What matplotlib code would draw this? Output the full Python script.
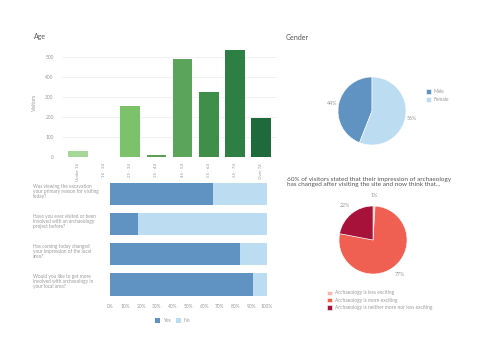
import matplotlib.pyplot as plt

plt.rcParams["font.family"] = ["Lato", "DejaVu Sans"]

W, H = 500, 354
GREY = "#9a9a9a"
DARK = "#555555"

# --- data -------------------------------------------------------------
age_groups = ["Under 16", "16 - 24", "25 - 34", "35 - 44", "45 - 54", "55 - 64", "65 - 74", "Over 74"]
age_visitors = [33, 2, 255, 12, 487, 326, 532, 197]
age_colors = ["#a6d796", "#d9efd2", "#7cc26b", "#5d9e56", "#5aa55a", "#3f8f4b", "#2e7f44", "#1f6a3a"]

questions = [
    "Was viewing the excavation\nyour primary reason for visiting\ntoday?",
    "Have you ever visited or been\ninvolved with an archaeology\nproject before?",
    "Has coming today changed\nyour impression of the local\narea?",
    "Would you like to get more\ninvolved with archaeology in\nyour local area?",
]
yes_pct = [66, 18, 83, 91.5]
pct_ticks = [0, 10, 20, 30, 40, 50, 60, 70, 80, 90, 100]

gender_labels = ["Male", "Female"]
gender_pct = [44, 56]

impression_labels = [
    "Archaeology is less exciting",
    "Archaeology is more exciting",
    "Archaeology is neither more nor less exciting",
]
impression_pct = [1, 77, 22]

BLUE = "#6093c2"
LIGHT_BLUE = "#bcdcf1"
impression_colors = ["#f6b7b0", "#ef6052", "#a6123a"]


def px_axes(fig, x0, y0, x1, y1):
    # pixel box (top-left origin) -> figure axes
    return fig.add_axes([x0 / W, 1 - y1 / H, (x1 - x0) / W, (y1 - y0) / H])


def pct_label(p):
    return f"{round(p)}%"


fig = plt.figure(figsize=(W / 100, H / 100), dpi=100)

# --- age bars ---------------------------------------------------------
ax = px_axes(fig, 62, 46.6, 277, 157.3)
ax.bar(range(len(age_groups)), age_visitors, width=0.75, color=age_colors, zorder=2)
ax.set_xlim(-0.6, 7.6)
ax.set_ylim(0, 550)
ax.set_yticks([0, 100, 200, 300, 400, 500])
ax.yaxis.grid(True, color="#f0f0f0", linewidth=0.6, zorder=0)
ax.set_xticks(range(len(age_groups)))
ax.set_xticklabels(age_groups, rotation=90, fontsize=3.2, color=GREY)
ax.tick_params(axis="y", labelsize=3.5, labelcolor=GREY, length=0, pad=6)
ax.tick_params(axis="x", length=0, pad=4)
for s in ax.spines.values():
    s.set_visible(False)
ax.set_ylabel("Visitors", fontsize=3.8, color=GREY, labelpad=6)
fig.text(34 / W, 1 - 37 / H, "Age", fontsize=5, color=DARK, va="center")

# --- yes / no stacked bars -------------------------------------------
ax2 = px_axes(fig, 110, 179, 266.7, 299.5)
ax2.patch.set_visible(False)
rows = range(len(questions))
no_pct = [100 - v for v in yes_pct]
ax2.barh(rows, yes_pct, height=0.74, color=BLUE, label="Yes")
ax2.barh(rows, no_pct, left=yes_pct, height=0.74, color=LIGHT_BLUE, label="No")
ax2.set_ylim(3.5, -0.5)
ax2.set_xlim(0, 100)
ax2.set_yticks([])
ax2.set_xticks(pct_ticks)
ax2.set_xticklabels([f"{t}%" for t in pct_ticks], fontsize=3.5, color=GREY)
ax2.tick_params(axis="x", length=0, pad=3)
for s in ax2.spines.values():
    s.set_visible(False)
for i, q in enumerate(questions):
    ax2.text(-0.49, i - 0.33, q, transform=ax2.get_yaxis_transform(), fontsize=3.4,
             color=GREY, ha="left", va="top", linespacing=1.0)
ax2.legend(loc="upper center", bbox_to_anchor=(0.4, -0.12), ncol=2, frameon=False,
           fontsize=3.5, labelcolor=GREY, handlelength=1.0, handleheight=1.0,
           handletextpad=0.5, columnspacing=1.2)

# --- gender pie -------------------------------------------------------
r = 34
cx, cy = 372, 111
L = 1.6
ax3 = px_axes(fig, cx - L * r, cy - L * r, cx + L * r, cy + L * r)
wedges, _, autotexts = ax3.pie(gender_pct, colors=[BLUE, LIGHT_BLUE], startangle=90,
                              autopct=pct_label, pctdistance=1.2,
                              wedgeprops=dict(edgecolor="white", linewidth=0.4))
for t in autotexts:
    t.set_fontsize(3.8)
    t.set_color(GREY)
ax3.set_xlim(-L, L)
ax3.set_ylim(-L, L)
ax3.legend(wedges, gender_labels, loc="center left", bbox_to_anchor=(0.98, 0.64),
           borderaxespad=0, frameon=False, fontsize=3.5, labelcolor=GREY,
           handlelength=1.0, handleheight=1.0, handletextpad=0.5, labelspacing=0.6)
fig.text(286 / W, 1 - 37 / H, "Gender", fontsize=5, color=DARK, va="center")

# --- impression pie ---------------------------------------------------
cx, cy = 373, 240
ax4 = px_axes(fig, cx - L * r, cy - L * r, cx + L * r, cy + L * r)
wedges, _, autotexts = ax4.pie(impression_pct, colors=impression_colors, startangle=90,
                              counterclock=False, autopct=pct_label, pctdistance=1.3,
                              wedgeprops=dict(edgecolor="white", linewidth=0.4))
for t in autotexts:
    t.set_fontsize(3.8)
    t.set_color(GREY)
ax4.set_xlim(-L, L)
ax4.set_ylim(-L, L)
fig.legend(wedges, impression_labels, loc="upper left",
           bbox_to_anchor=(323 / W, 1 - 286 / H), frameon=False, fontsize=3.5,
           labelcolor=GREY, handlelength=1.0, handleheight=1.0, handletextpad=0.5,
           labelspacing=0.5)
fig.text(287 / W, 1 - 182 / H,
         "60% of visitors stated that their impression of archaeology\n"
         "has changed after visiting the site and now think that...",
         fontsize=4.6, color=DARK, va="center", linespacing=1.1)

fig.savefig("out.png", dpi=100)
